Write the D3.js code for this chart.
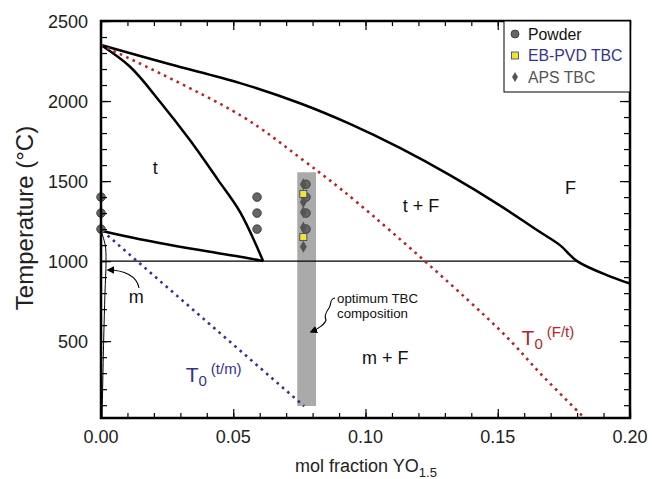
<!DOCTYPE html>
<html>
<head>
<meta charset="utf-8">
<script src="https://cdn.jsdelivr.net/npm/d3@7"></script>
<style>
body { margin: 0; background: #fff; }
svg text { font-family: "Liberation Sans", Arial, Helvetica, sans-serif; }
</style>
</head>
<body>
<svg></svg>
<script>
const svgWidth = 652
const svgHeight = 479
const margins = {top: 21, bottom: 61, left: 101, right: 22}

// phase boundaries, [mol fraction YO1.5, temperature C]
const fBoundary = [[0,2350],[0.0261,2230],[0.0526,2112],[0.0752,1986],[0.0941,1857],[0.113,1707],[0.1319,1537],[0.1509,1347],[0.1648,1194],[0.1735,1100],[0.18,1000],[0.1924,905],[0.2,860]]
const tBoundary = [[0,2350],[0.011,2214],[0.0223,1996],[0.0336,1756],[0.0443,1506],[0.0526,1306],[0.0613,1000]]
const mtBoundary = [[0,1190],[0.0147,1137],[0.0412,1058],[0.0526,1027],[0.0613,1000]]
const mSolvus = [[0,1190],[0.0016,1100],[0.0019,1000],[0.0015,800],[0.001,500],[0.0004,20]]
const eutectoid = [[0,1000],[0.18,1000]]
const t0tm = [[0.0025,1160],[0.0768,94]]
const t0Ft = [[0,2350],[0.0526,1912],[0.0764,1631],[0.0972,1362],[0.1508,569],[0.1671,281],[0.1825,25]]

const optimumBand = {c: [0.0742, 0.0813], t: [95, 1555]}

const powder = [[0,1400],[0,1300],[0,1200],[0.059,1400],[0.059,1300],[0.059,1200],[0.0775,1480],[0.0775,1400],[0.0775,1300],[0.0775,1200]]
const ebpvd = [[0.0765,1420],[0.0765,1150]]
const aps = [[0.0765,1480],[0.0765,1370],[0.0765,1305],[0.0765,1210],[0.0765,1090]]

const xTicks = [0, 0.05, 0.10, 0.15, 0.20]
const yTicks = [500, 1000, 1500, 2000, 2500]
const legendItems = ["Powder", "EB-PVD TBC", "APS TBC"]

const blue = "#35338a"
const red = "#b3262b"

const plotWidth = svgWidth - margins.left - margins.right
const plotHeight = svgHeight - margins.top - margins.bottom

const svg = d3.select("svg").attr("width", svgWidth).attr("height", svgHeight)

const xScale = d3.scaleLinear().domain([0, 0.2]).range([margins.left, margins.left + plotWidth])
const yScale = d3.scaleLinear().domain([20, 2500]).range([margins.top + plotHeight, margins.top])

// shaded band
svg.append("rect")
  .attr("x", xScale(optimumBand.c[0]))
  .attr("y", yScale(optimumBand.t[1]))
  .attr("width", xScale(optimumBand.c[1]) - xScale(optimumBand.c[0]))
  .attr("height", yScale(optimumBand.t[0]) - yScale(optimumBand.t[1]))
  .attr("fill", "#aaaaaa")

const line = d3.line().x(d => xScale(d[0])).y(d => yScale(d[1])).curve(d3.curveCatmullRom)

function drawLine(data, color, width, dash) {
  const p = svg.append("path").datum(data)
    .attr("d", line)
    .attr("fill", "none")
    .attr("stroke", color)
    .attr("stroke-width", width)
  if (dash) p.attr("stroke-dasharray", dash)
  return p
}

drawLine(eutectoid, "#000", 1.4)
drawLine(mSolvus, "#000", 1)
drawLine(fBoundary, "#000", 2.5)
drawLine(tBoundary, "#000", 2.5)
drawLine(mtBoundary, "#000", 2.5)
drawLine(t0tm, blue, 2.6, "2.6,4.4")
drawLine(t0Ft, red, 2.6, "2.6,4.4")

// markers
svg.selectAll("circle.powder").data(powder).enter().append("circle")
  .attr("class", "powder")
  .attr("cx", d => xScale(d[0])).attr("cy", d => yScale(d[1]))
  .attr("r", 4.3).attr("fill", "#666").attr("stroke", "#333").attr("stroke-width", 0.8)

svg.selectAll("path.aps").data(aps).enter().append("path")
  .attr("class", "aps")
  .attr("d", d3.symbol().type(d3.symbolDiamond).size(42))
  .attr("transform", d => `translate(${xScale(d[0])},${yScale(d[1])})`)
  .attr("fill", "#555")

svg.selectAll("rect.ebpvd").data(ebpvd).enter().append("rect")
  .attr("class", "ebpvd")
  .attr("x", d => xScale(d[0]) - 3.5).attr("y", d => yScale(d[1]) - 3.5)
  .attr("width", 7).attr("height", 7)
  .attr("fill", "#f2e62a").attr("stroke", blue).attr("stroke-width", 0.8)

// axes with ticks on all four sides, pointing inward
const xMinor = d3.range(0, 0.2001, 0.01)
const yMinor = d3.range(100, 2501, 100)
svg.append("g").attr("transform", `translate(0,${margins.top + plotHeight})`)
  .call(d3.axisTop(xScale).tickValues(xMinor).tickSize(5).tickFormat(""))
svg.append("g").attr("transform", `translate(0,${margins.top + plotHeight})`)
  .call(d3.axisTop(xScale).tickValues(xTicks).tickSize(9).tickFormat(""))
svg.append("g").attr("transform", `translate(0,${margins.top})`)
  .call(d3.axisBottom(xScale).tickValues(xMinor).tickSize(5).tickFormat(""))
svg.append("g").attr("transform", `translate(0,${margins.top})`)
  .call(d3.axisBottom(xScale).tickValues(xTicks).tickSize(9).tickFormat(""))
svg.append("g").attr("transform", `translate(${margins.left},0)`)
  .call(d3.axisRight(yScale).tickValues(yMinor).tickSize(6).tickFormat(""))
svg.append("g").attr("transform", `translate(${margins.left},0)`)
  .call(d3.axisRight(yScale).tickValues(yTicks).tickSize(10).tickFormat(""))
svg.append("g").attr("transform", `translate(${margins.left + plotWidth},0)`)
  .call(d3.axisLeft(yScale).tickValues(yMinor).tickSize(6).tickFormat(""))
svg.append("g").attr("transform", `translate(${margins.left + plotWidth},0)`)
  .call(d3.axisLeft(yScale).tickValues(yTicks).tickSize(10).tickFormat(""))
svg.selectAll(".domain").remove()
svg.selectAll(".tick line").attr("stroke", "#000").attr("stroke-width", 1.2)

svg.append("rect")
  .attr("x", margins.left).attr("y", margins.top)
  .attr("width", plotWidth).attr("height", plotHeight)
  .attr("fill", "none").attr("stroke", "#000").attr("stroke-width", 2.5)

// tick labels
svg.selectAll("text.xtick").data(xTicks).enter().append("text")
  .attr("class", "xtick")
  .attr("x", d => xScale(d)).attr("y", margins.top + plotHeight + 25)
  .attr("text-anchor", "middle").attr("font-size", 18).attr("fill", "#222")
  .text(d => d3.format(".2f")(d))
svg.selectAll("text.ytick").data(yTicks).enter().append("text")
  .attr("class", "ytick")
  .attr("x", margins.left - 13).attr("y", d => yScale(d) + 6.5)
  .attr("text-anchor", "end").attr("font-size", 18).attr("fill", "#222")
  .text(d => d)

// axis titles
const xt = svg.append("text")
  .attr("x", 366).attr("y", 472)
  .attr("text-anchor", "middle").attr("font-size", 18).attr("fill", "#222")
xt.append("tspan").text("mol fraction YO")
xt.append("tspan").attr("dy", 5).attr("font-size", 13).text("1.5")

svg.append("text")
  .attr("transform", "translate(33,218) rotate(-90)")
  .attr("text-anchor", "middle").attr("font-size", 24).attr("fill", "#222")
  .text("Temperature (°C)")

// phase labels
function label(txt, c, t, size, color) {
  return svg.append("text").attr("x", xScale(c)).attr("y", yScale(t))
    .attr("text-anchor", "middle").attr("font-size", size).attr("fill", color || "#111")
    .text(txt)
}
label("t", 0.0205, 1545, 18)
label("t + F", 0.1210, 1305, 18)
label("F", 0.1775, 1420, 18)
label("m + F", 0.1075, 360, 18)
label("m", 0.0133, 740, 18)

// T0 labels
const tm = svg.append("text").attr("x", xScale(0.032)).attr("y", yScale(246))
  .attr("font-size", 21).attr("fill", blue)
tm.append("tspan").text("T")
tm.append("tspan").attr("dy", 4).attr("font-size", 15).text("0")
tm.append("tspan").attr("dy", -12).attr("dx", 4).attr("font-size", 15).text("(t/m)")

const tf = svg.append("text").attr("x", xScale(0.159)).attr("y", yScale(475))
  .attr("font-size", 21).attr("fill", red)
tf.append("tspan").text("T")
tf.append("tspan").attr("dy", 4).attr("font-size", 15).text("0")
tf.append("tspan").attr("dy", -12).attr("dx", 4).attr("font-size", 15).text("(F/t)")

// optimum composition note
const note = svg.append("text").attr("x", 337).attr("y", 302.5).attr("font-size", 13.3).attr("fill", "#111")
note.append("tspan").attr("x", 337).text("optimum TBC")
note.append("tspan").attr("x", 337).attr("dy", 15).text("composition")

svg.append("defs").append("marker")
  .attr("id", "ah").attr("viewBox", "0 0 10 10").attr("refX", 8).attr("refY", 5)
  .attr("markerWidth", 7).attr("markerHeight", 7).attr("orient", "auto-start-reverse")
  .append("path").attr("d", "M0,0 L10,5 L0,10 z").attr("fill", "#000")

svg.append("path")
  .attr("d", "M335,298 C329,299 332,304 329,308 C326,312 324,316 326,320 C325,324 318,329 311,332")
  .attr("fill", "none").attr("stroke", "#000").attr("stroke-width", 1.1)
  .attr("marker-end", "url(#ah)")

svg.append("path")
  .attr("d", "M139,288 C137,276 124,270 108,270")
  .attr("fill", "none").attr("stroke", "#000").attr("stroke-width", 1.1)
  .attr("marker-end", "url(#ah)")

// legend
const lg = svg.append("g")
lg.append("rect").attr("x", 504).attr("y", margins.top).attr("width", 126).attr("height", 71)
  .attr("fill", "#fff").attr("stroke", "#000").attr("stroke-width", 1)
const legendColors = ["#111", blue, "#555"]
legendItems.forEach((name, i) => {
  const cy = 34 + i * 21.5
  if (i === 0) lg.append("circle").attr("cx", 515).attr("cy", cy).attr("r", 4).attr("fill", "#666").attr("stroke", "#333").attr("stroke-width", 0.8)
  if (i === 1) lg.append("rect").attr("x", 511.5).attr("y", cy - 3.5).attr("width", 7).attr("height", 7).attr("fill", "#f2e62a").attr("stroke", blue).attr("stroke-width", 0.8)
  if (i === 2) lg.append("path").attr("d", d3.symbol().type(d3.symbolDiamond).size(30)).attr("transform", `translate(515,${cy})`).attr("fill", "#555")
  lg.append("text").attr("x", 528).attr("y", cy + 5.5).attr("font-size", 15.8).attr("fill", legendColors[i]).text(name)
})
</script>
</body>
</html>
